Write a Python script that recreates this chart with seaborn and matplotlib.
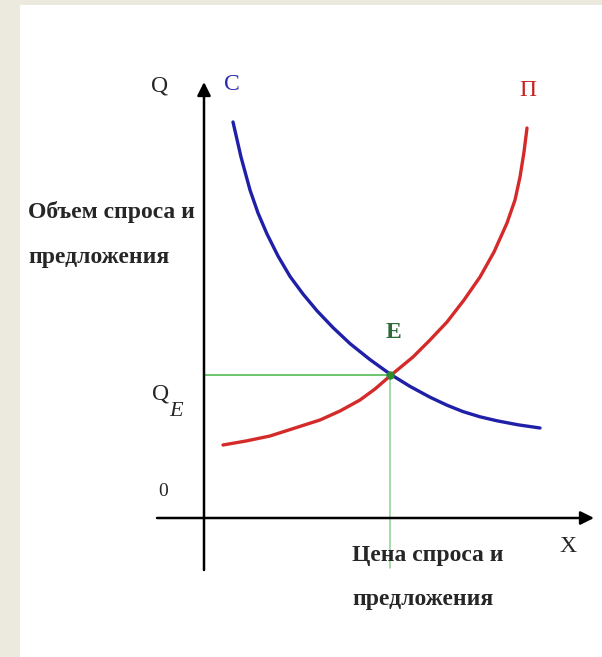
import numpy as np
import pandas as pd
import seaborn as sns
import matplotlib.pyplot as plt
from matplotlib.patches import Rectangle

# demand curve C (price -> quantity)
demand_price = [0.725, 0.925, 1.15, 1.35, 1.575, 1.85, 2.15, 2.475, 2.825, 3.225,
                3.65, 4.15, 4.65, 5.15, 5.65, 6.075, 6.475, 6.9, 7.325, 7.85, 8.4]
demand_qty = [9.9, 9.025, 8.2, 7.625, 7.1, 6.55, 6.04, 5.6, 5.18, 4.76,
              4.36, 3.96, 3.6, 3.29, 3.02, 2.82, 2.66, 2.53, 2.43, 2.33, 2.25]

# supply curve П
supply_price = [0.475, 1.05, 1.65, 2.275, 2.9, 3.4, 3.9, 4.275, 4.65, 5.225,
                5.65, 6.075, 6.5, 6.9, 7.25, 7.575, 7.775, 7.9, 8.0, 8.075]
supply_qty = [1.825, 1.925, 2.05, 2.25, 2.45, 2.675, 2.95, 3.225, 3.55, 4.025,
              4.45, 4.9, 5.45, 6.025, 6.65, 7.375, 7.95, 8.525, 9.15, 9.75]

# equilibrium point E
eq_price = 4.65
eq_qty = 3.57

y_label = ["Объем спроса и", "предложения"]
x_label = ["Цена спроса и", "предложения"]

sns.set_theme(style="white")
plt.rcParams["font.family"] = ["Liberation Serif", "DejaVu Serif"]

fig = plt.figure(figsize=(6.02, 6.57), dpi=100)
fig.patch.set_facecolor("#ece9de")
ax = fig.add_axes([20 / 602, 0, 582 / 602, 652 / 657])
ax.set_facecolor("white")
ax.set_xlim(-4.6, 9.95)
ax.set_ylim(-3.475, 12.825)
ax.axis("off")
ax.add_patch(Rectangle((-4.6, -3.475), 14.55, 16.3, color="white", zorder=0))

df_d = pd.DataFrame({"price": demand_price, "qty": demand_qty})
df_s = pd.DataFrame({"price": supply_price, "qty": supply_qty})

# green guide lines to the equilibrium
ax.plot([0, eq_price], [eq_qty, eq_qty], color="#6cc46c", lw=1.4, zorder=2)
ax.plot([eq_price, eq_price], [eq_qty, -1.25], color="#8fd08f", lw=1.1, zorder=2)

line_kw = dict(sort=False, lw=2.4, ax=ax, zorder=3,
               solid_capstyle="round", solid_joinstyle="round")
sns.lineplot(data=df_d, x="price", y="qty", color="#1f1fa8", **line_kw)
sns.lineplot(data=df_s, x="price", y="qty", color="#d42a2a", **line_kw)
ax.plot([eq_price], [eq_qty], "o", color="#2e8b2e", ms=5, zorder=4)

# axes with arrows
ax.annotate("", xy=(0, 10.9), xytext=(0, -1.3),
            arrowprops=dict(arrowstyle="-|>", color="black", lw=1.8,
                            mutation_scale=20, shrinkA=0, shrinkB=0))
ax.annotate("", xy=(9.75, 0), xytext=(-1.175, 0),
            arrowprops=dict(arrowstyle="-|>", color="black", lw=1.8,
                            mutation_scale=20, shrinkA=0, shrinkB=0))

fs = 17
ax.text(-1.1, 10.8, "Q", fontsize=fs, ha="center", va="center")
ax.text(0.7, 10.85, "С", fontsize=fs, ha="center", va="center", color="#2a2ab0")
ax.text(8.1, 10.7, "П", fontsize=fs, ha="center", va="center", color="#c82020")
ax.text(4.725, 4.625, "E", fontsize=fs, ha="center", va="center", color="#2f6b3a",
        fontweight="bold")
ax.text(-1.075, 3.1, "Q", fontsize=fs, ha="center", va="center")
ax.text(-0.7, 2.675, "E", fontsize=fs - 1, ha="center", va="center", style="italic")
ax.text(-1.025, 0.65, "0", fontsize=fs - 3, ha="center", va="center")
ax.text(9.1, -0.725, "X", fontsize=fs, ha="center", va="center")

ax.text(-4.4, 7.65, y_label[0], fontsize=fs, ha="left", va="center", fontweight="bold")
ax.text(-4.4, 6.525, y_label[1], fontsize=fs, ha="left", va="center", fontweight="bold")
ax.text(3.7, -0.95, x_label[0], fontsize=fs, ha="left", va="center", fontweight="bold")
ax.text(3.7, -2.05, x_label[1], fontsize=fs, ha="left", va="center", fontweight="bold")

plt.savefig("out.png", dpi=100)
